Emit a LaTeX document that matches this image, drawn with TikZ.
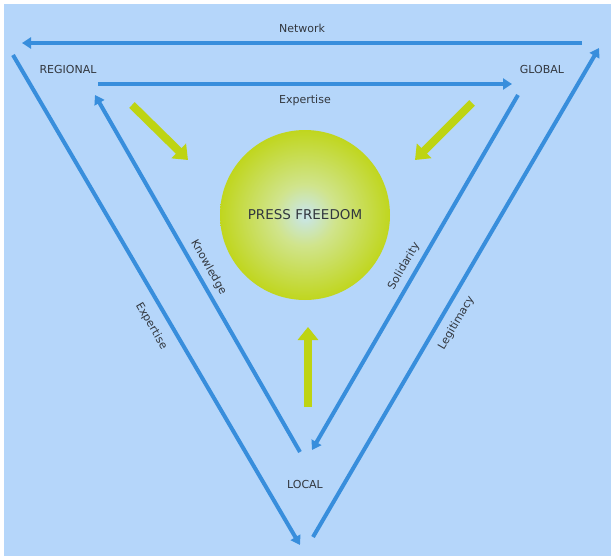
\documentclass[tikz,border=0pt]{standalone}
\usepackage{fontspec}
\setmainfont{DejaVu Sans}
\usetikzlibrary{arrows.meta,positioning}

\definecolor{bgblue}{RGB}{181,214,250}
\definecolor{linkblue}{RGB}{56,142,220}
\definecolor{pushgreen}{RGB}{190,212,18}
\definecolor{labelgray}{RGB}{50,55,62}
\definecolor{pfinner}{RGB}{200,230,238}
\definecolor{pfmid}{RGB}{208,228,140}
\definecolor{pfouter}{RGB}{192,214,30}
\pgfdeclareradialshading{pfshade}{\pgfpoint{0bp}{0bp}}{color(0bp)=(pfinner); color(9bp)=(pfmid); color(25bp)=(pfouter); color(50bp)=(pfouter)}

\begin{document}
\begin{tikzpicture}[x=1pt,y=-1pt,
  every node/.style={font=\fontsize{11}{13}\selectfont, text=labelgray},
  link/.style={draw=linkblue, line width=4pt, -{Triangle[length=9pt,width=11pt]}},
  push/.style={draw=pushgreen, line width=8pt, -{Triangle[length=13pt,width=20pt]}}]
\useasboundingbox (0,0) rectangle (611,560);
\fill[bgblue] (4,4) rectangle (611,556);

\node (press) [circle, minimum size=170pt, shade, shading=pfshade, font=\fontsize{13.5}{16}\selectfont] at (305,215) {PRESS FREEDOM};
\node (regional) at (68,69) {REGIONAL};
\node (global) at (542,69) {GLOBAL};
\node (local) at (305,484) {LOCAL};

% arrow ends
\coordinate (netR) at (582,43);
\coordinate (netL) at (22,43);
\coordinate (expA) at (98,84);
\coordinate (expB) at (512,84);
\coordinate (outLtop) at (13,55);
\coordinate (outLbot) at (300,545);
\coordinate (outRbot) at (313,537);
\coordinate (outRtop) at (599,48);
\coordinate (inLbot) at (300,452);
\coordinate (inLtop) at (95,95);
\coordinate (inRtop) at (518,95);
\coordinate (inRbot) at (312,450);

\draw[link] (netR) -- node[above=5pt] (netlabel) {Network} (netL);
\draw[link] (expA) -- node[below=6pt] (explabel) {Expertise} (expB);
\draw[link] (outLtop) -- node[pos=.535, sloped, below=7pt] (outLlabel) {Expertise} (outLbot);
\draw[link] (outRbot) -- node[pos=.454, sloped, below=5pt] (outRlabel) {Legitimacy} (outRtop);
\draw[link] (inLbot) -- node[pos=.5, sloped, above=2pt] (inLlabel) {Knowledge} (inLtop);
\draw[link] (inRtop) -- node[pos=.5, sloped, above=2pt] (inRlabel) {Solidarity} (inRbot);

% pushes towards the centre
\coordinate (pushA) at (132,105);
\coordinate (pushAend) at (188,160);
\coordinate (pushB) at (472,103);
\coordinate (pushBend) at (415,160);
\coordinate (pushC) at (308,407);
\coordinate (pushCend) at (308,327);
\draw[push] (pushA) -- (pushAend);
\draw[push] (pushB) -- (pushBend);
\draw[push] (pushC) -- (pushCend);
\end{tikzpicture}
\end{document}
